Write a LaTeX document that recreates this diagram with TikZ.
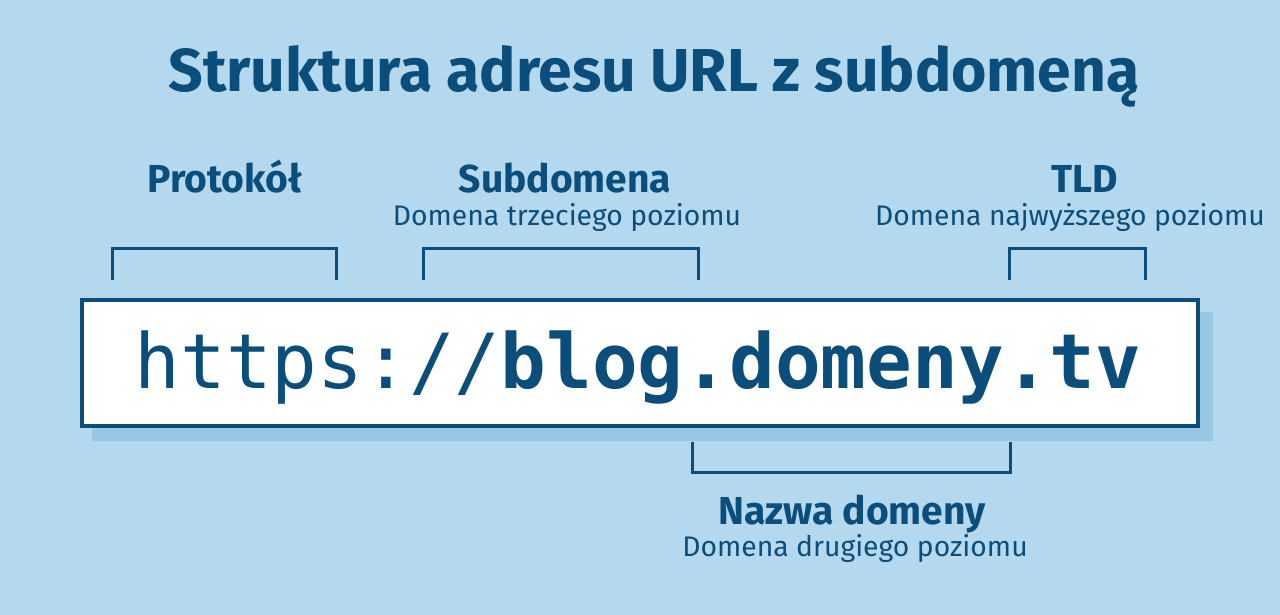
\documentclass[tikz,border=0pt]{standalone}
\usepackage{fontspec}
\setmainfont{Fira Sans}
\newfontfamily\urlfont{DejaVu Sans Mono}
\definecolor{bgBlue}{HTML}{B4D8EE}
\definecolor{darkBlue}{HTML}{0C4E7B}
\definecolor{shadowBlue}{HTML}{98C7E4}
\begin{document}
\begin{tikzpicture}
[x=0.5pt,y=-0.5pt,
  bracketDecorate/.style={-,draw=darkBlue,line width=1.5pt},%
  headDecorate/.style={anchor=base,text=darkBlue,font=\fontsize{19.5}{22}\selectfont\bfseries,inner sep=0pt},%
  subDecorate/.style={anchor=base,text=darkBlue,font=\fontsize{14.15}{17}\selectfont,inner sep=0pt}]
\fill[bgBlue] (0,0) rectangle (1280,615);
\useasboundingbox (0,0) rectangle (1280,615);
%% title
\node (title) at (654,92) [anchor=base,text=darkBlue,inner sep=0pt,
  font=\fontsize{30.3}{34}\selectfont\bfseries] {Struktura adresu URL z subdomeną};
%% url box with shadow
\fill[shadowBlue] (92,312) rectangle (1213,441);
\node (url) at (640,363) [draw=darkBlue,line width=2pt,fill=white,
  minimum width=558pt,minimum height=63pt,inner sep=0pt] {};
\node (urltext) at (638,388) [anchor=base,text=darkBlue,inner sep=0pt,
  font=\urlfont\fontsize{38}{40}\selectfont] {https://\textbf{blog.domeny.tv}};
%% labels
\foreach \nodename/\x/\y/\style/\txt in {
  protokol/225/192/headDecorate/Protokół,
  subdomena/565/192/headDecorate/Subdomena,
  subdomenaSub/567/225/subDecorate/Domena trzeciego poziomu,
  tld/1085/192/headDecorate/TLD,
  tldSub/1070/225/subDecorate/Domena najwyższego poziomu,
  nazwa/852/524/headDecorate/Nazwa domeny,
  nazwaSub/855/556/subDecorate/Domena drugiego poziomu}
{
  \node (\nodename) at (\x,\y) [\style] {\txt};
}
%% brackets
\foreach \xa/\xb/\ya/\yb in {
  112/336/280/248, 423/698/280/248, 1009/1145/280/248, 692/1010/442/472}
{
  \draw[bracketDecorate] (\xa,\ya) -- (\xa,\yb) -- (\xb,\yb) -- (\xb,\ya);
}
\end{tikzpicture}
\end{document}
